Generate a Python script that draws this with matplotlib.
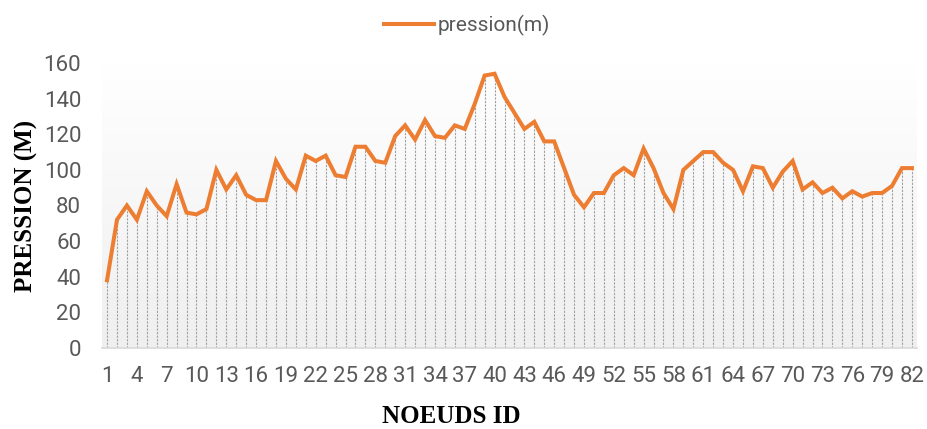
import numpy as np
import matplotlib
matplotlib.use('Agg')
import matplotlib.pyplot as plt
from matplotlib.colors import LinearSegmentedColormap

# ── Data ──────────────────────────────────────────────────────────────────────
node_ids = list(range(1, 83))
pression = [
    38, 72, 80, 72, 88, 80, 74, 92, 76, 75,
    78, 100, 89, 97, 86, 83, 83, 105, 95, 89,
    108, 105, 108, 97, 96, 113, 113, 105, 104, 119,
    125, 117, 128, 119, 118, 125, 123, 137, 153, 154,
    141, 132, 123, 127, 116, 116, 101, 86, 79, 87,
    87, 97, 101, 97, 112, 101, 87, 78, 100, 105,
    110, 110, 104, 100, 88, 102, 101, 90, 99, 105,
    89, 93, 87, 90, 84, 88, 85, 87, 87, 91,
    101, 101,
]
tick_ids = node_ids[::3]

ORANGE = '#ED7D31'
GREY_TXT = '#595959'

fig = plt.figure(figsize=(9.28, 4.29), dpi=100)
ax = fig.add_axes([0.110, 0.189, 0.878, 0.664])

# plot-area gradient: white at top → light grey at bottom
cmap = LinearSegmentedColormap.from_list('bg', ['#efefef', '#ffffff'])
grad = np.linspace(0, 1, 256).reshape(-1, 1)
ax.imshow(grad, cmap=cmap, aspect='auto', origin='lower',
          extent=(0.5, 82.5, 0, 160), zorder=0)

# drop lines
ax.vlines(node_ids, 0, pression, colors='#a0a0a0', linewidth=0.8,
          linestyles=(0, (2, 1.2)), zorder=1)

ax.plot(node_ids, pression, color=ORANGE, linewidth=2.9,
        solid_joinstyle='miter', label='pression(m)', zorder=3)

ax.set_xlim(0.5, 82.5)
ax.set_ylim(0, 160)
ax.set_yticks(range(0, 161, 20))
ax.set_xticks(tick_ids)

for s in ['top', 'right', 'left']:
    ax.spines[s].set_visible(False)
ax.spines['bottom'].set_color('#d9d9d9')
ax.spines['bottom'].set_linewidth(1.2)

ax.tick_params(axis='both', length=0, labelsize=16, labelcolor=GREY_TXT)
ax.tick_params(axis='x', pad=13)
ax.tick_params(axis='y', pad=15)
for lbl in ax.get_xticklabels() + ax.get_yticklabels():
    lbl.set_family('Roboto')

ax.set_xlabel('NOEUDS ID', family='Liberation Serif', fontweight='bold',
              fontsize=18, color='black', labelpad=13)
ax.xaxis.set_label_coords(0.429, -0.2, transform=ax.transAxes)
ax.xaxis.label.set_verticalalignment('top')
ax.set_ylabel('PRESSION (M)', family='Liberation Serif', fontweight='bold',
              fontsize=18, color='black', labelpad=4)

leg = fig.legend(loc='upper center', bbox_to_anchor=(0.503, 1.01), frameon=False,
                 handlelength=2.4, handletextpad=0.2,
                 prop={'family': 'Roboto', 'size': 15})
for t in leg.get_texts():
    t.set_color(GREY_TXT)

fig.savefig('out.png', dpi=100, facecolor='white')
plt.close(fig)
